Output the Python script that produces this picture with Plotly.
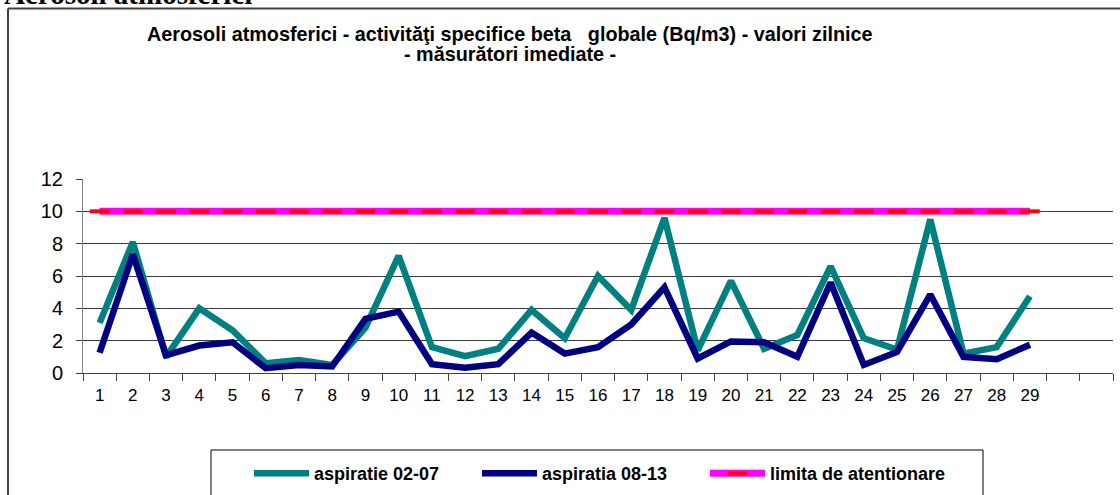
import plotly.graph_objects as go

# ---------------- data ----------------
days = [str(i) for i in range(1, 30)]
extra_slots = [" ", "  "]          # two empty category slots at the right
aspiratie_02_07 = [3.1, 8.1, 1.0, 4.0, 2.65, 0.6, 0.8, 0.5, 2.8, 7.25,
                   1.6, 1.04, 1.5, 3.9, 2.15, 6.0, 3.9, 9.6, 1.4, 5.7,
                   1.5, 2.35, 6.6, 2.15, 1.45, 9.5, 1.2, 1.6, 4.75]
aspiratia_08_13 = [1.25, 7.35, 1.1, 1.7, 1.9, 0.3, 0.5, 0.4, 3.35, 3.8,
                   0.55, 0.33, 0.55, 2.5, 1.2, 1.6, 3.0, 5.3, 0.9, 1.95,
                   1.9, 1.0, 5.6, 0.5, 1.3, 4.85, 1.0, 0.85, 1.75]
limita = [10] * 29
y_ticks = [0, 2, 4, 6, 8, 10, 12]

title_l1 = "Aerosoli atmosferici - activităţi specifice beta\u00a0\u00a0 globale (Bq/m3) - valori zilnice"
title_l2 = "- măsurători imediate -"
heading = "Aerosoli atmosferici"

FONT = "Liberation Sans, Arial, sans-serif"

W, H = 1120, 495
L, R, T, B = 83, 7, 179, 122
PW, PH = W - L - R, H - T - B


def px(x):  # page x -> paper
    return (x - L) / PW


def py(y):  # page y -> paper
    return (H - B - y) / PH


def cx(x):  # page x -> container
    return x / W


def cy(y):  # page y -> container
    return 1 - y / H


fig = go.Figure()
fig.add_trace(go.Scatter(x=days, y=aspiratie_02_07, mode="lines",
                         name="aspiratie 02-07", legend="legend",
                         line=dict(color="#008080", width=6.5)))
fig.add_trace(go.Scatter(x=days, y=aspiratia_08_13, mode="lines",
                         name="aspiratia 08-13", legend="legend2",
                         line=dict(color="#000080", width=6.5)))
fig.add_trace(go.Scatter(x=days, y=limita, mode="lines+markers",
                         name="limita de atentionare", legend="legend3",
                         line=dict(color="#FF00FF", width=7),
                         marker=dict(symbol="line-ew", size=14,
                                     line=dict(color="#FF0000", width=4))))

legend_style = dict(orientation="h", xanchor="left", yanchor="top",
                    xref="container", yref="container",
                    font=dict(family=FONT, size=18, color="black", weight="bold"),
                    itemwidth=55, bgcolor="rgba(0,0,0,0)", borderwidth=0)

fig.update_layout(
    width=W, height=H,
    margin=dict(l=L, r=R, t=T, b=B, pad=0),
    paper_bgcolor="white", plot_bgcolor="white",
    font=dict(family=FONT, color="black"),
    showlegend=True,
    legend=dict(legend_style, x=cx(249), y=cy(455)),
    legend2=dict(legend_style, x=cx(477), y=cy(455)),
    legend3=dict(legend_style, x=cx(705), y=cy(455)),
    xaxis=dict(type="category", categoryorder="array",
               categoryarray=days + extra_slots,
               range=[-0.5, 30.5], tickson="boundaries",
               ticks="outside", ticklen=7, tickcolor="#404040",
               ticklabelstandoff=7,
               showline=True, linecolor="#404040", linewidth=1,
               showgrid=False, zeroline=False,
               tickfont=dict(family=FONT, size=17, color="black")),
    yaxis=dict(range=[0, 12], tickvals=y_ticks,
               ticks="outside", ticklen=6, tickcolor="#404040",
               ticklabelstandoff=9,
               showline=True, linecolor="#808080", linewidth=1,
               showgrid=True, gridcolor="#3a3a3a", gridwidth=1,
               zeroline=False,
               tickfont=dict(family=FONT, size=20, color="black")),
    annotations=[
        dict(text=title_l1, xref="paper", yref="paper",
             x=px(509.5), y=py(21), xanchor="center", yanchor="top",
             showarrow=False,
             font=dict(family=FONT, size=19.8, color="black", weight="bold")),
        dict(text=title_l2, xref="paper", yref="paper",
             x=px(509.5), y=py(41), xanchor="center", yanchor="top",
             showarrow=False,
             font=dict(family=FONT, size=19.8, color="black", weight="bold")),
        dict(text=heading, xref="paper", yref="paper",
             x=px(2), y=py(12), xanchor="left", yanchor="bottom",
             showarrow=False,
             font=dict(family="Liberation Serif, Times New Roman, serif",
                       size=29, color="black", weight="bold")),
    ],
    shapes=[
        # outer chart frame (left + top borders visible)
        dict(type="line", xref="paper", yref="paper",
             x0=px(8), x1=px(1130), y0=py(8.5), y1=py(8.5),
             line=dict(color="#404040", width=2), layer="above"),
        dict(type="line", xref="paper", yref="paper",
             x0=px(8), x1=px(8), y0=py(8.5), y1=py(520),
             line=dict(color="#404040", width=2), layer="above"),
        # legend frame
        dict(type="rect", xref="paper", yref="paper",
             x0=px(211), x1=px(983), y0=py(520), y1=py(450),
             line=dict(color="black", width=1), layer="above"),
    ],
)

fig.write_html("out.html", config={"displayModeBar": False},
               post_script="document.body.style.margin='0px';")
